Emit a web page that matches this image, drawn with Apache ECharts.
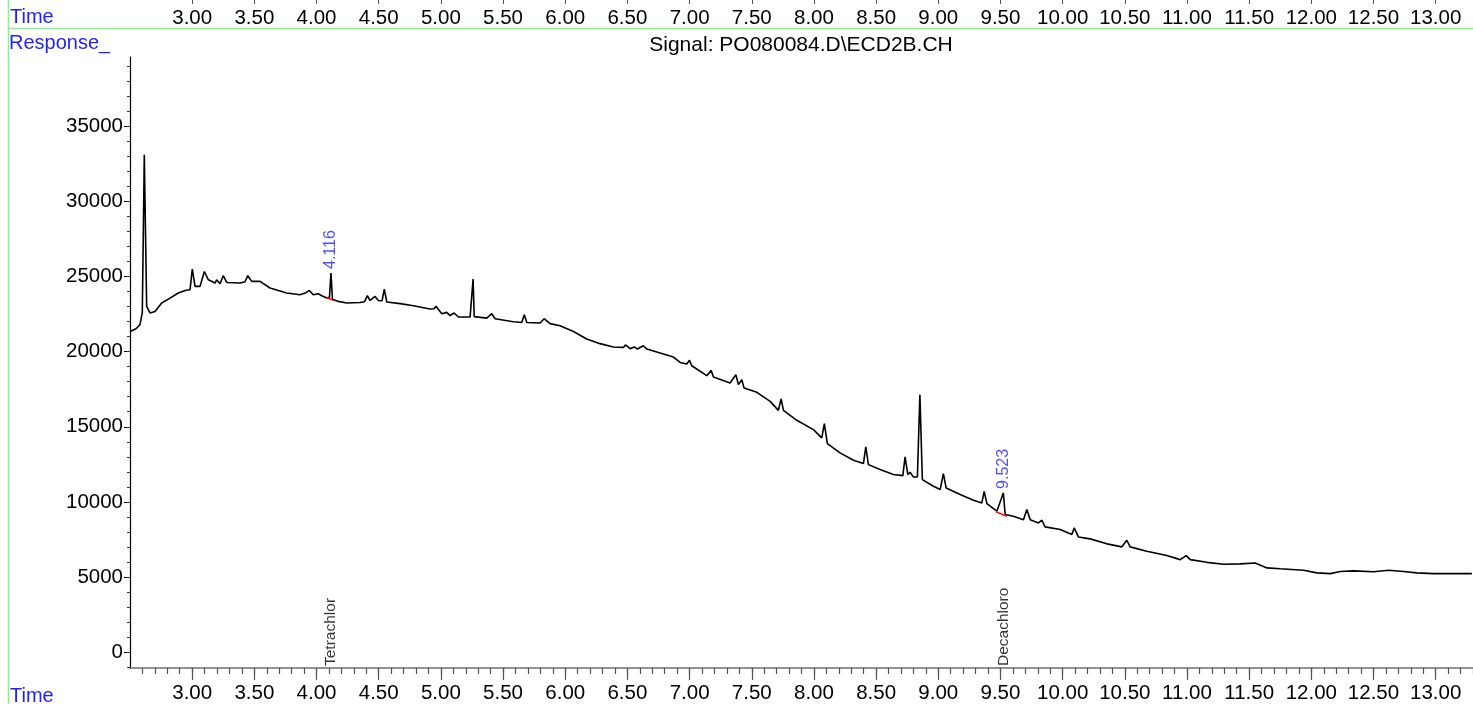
<!DOCTYPE html>
<html><head><meta charset="utf-8">
<script src="https://cdn.jsdelivr.net/npm/echarts@6/dist/echarts.min.js"></script>
<style>html,body{margin:0;padding:0;background:#fff}#c{width:1473px;height:704px}</style>
</head><body><div id="c"></div>
<script>
// Chromatogram trace: [retention time (min), response]
const trace = [
[2.500,21340],[2.548,21520],[2.580,21790],[2.599,22590],[2.615,33090],[2.634,23010],[2.661,22570],[2.701,22670],
[2.755,23230],[2.822,23560],[2.888,23900],[2.950,24080],[2.983,24120],[3.001,25490],[3.023,24340],[3.063,24340],
[3.098,25330],[3.130,24780],[3.184,24560],[3.197,24780],[3.224,24520],[3.250,25050],[3.278,24600],[3.385,24560],
[3.425,24650],[3.447,25050],[3.479,24670],[3.546,24670],[3.626,24230],[3.760,23900],[3.867,23780],[3.916,23920],
[3.942,24070],[3.974,23780],[4.014,23850],[4.042,23720],[4.082,23560],[4.104,23620],[4.116,25230],[4.128,23480],
[4.133,23450],[4.175,23340],[4.243,23230],[4.350,23270],[4.386,23320],[4.409,23720],[4.430,23400],[4.471,23670],
[4.497,23400],[4.527,23380],[4.545,24160],[4.565,23300],[4.672,23190],[4.779,23050],[4.913,22830],[4.945,22850],
[4.961,23010],[5.007,22520],[5.047,22610],[5.074,22390],[5.106,22570],[5.141,22300],[5.235,22300],[5.250,22350],
[5.259,24830],[5.268,22330],[5.283,22340],[5.369,22230],[5.409,22520],[5.436,22190],[5.583,21990],[5.650,21940],
[5.671,22450],[5.691,21940],[5.798,21900],[5.830,22190],[5.878,21860],[5.959,21720],[6.066,21340],[6.173,20840],
[6.280,20530],[6.387,20310],[6.468,20280],[6.484,20440],[6.522,20190],[6.554,20310],[6.580,20170],[6.628,20390],
[6.656,20170],[6.763,19910],[6.870,19640],[6.924,19280],[6.978,19180],[6.999,19420],[7.018,19060],[7.138,18400],
[7.173,18750],[7.192,18310],[7.326,17910],[7.372,18460],[7.393,17800],[7.420,18130],[7.438,17580],[7.541,17290],
[7.648,16690],[7.714,16090],[7.736,16850],[7.755,16090],[7.862,15430],[7.996,14810],[8.063,14260],[8.084,15210],
[8.108,13880],[8.210,13260],[8.318,12770],[8.398,12550],[8.417,13660],[8.438,12480],[8.532,12150],[8.639,11820],
[8.715,11750],[8.733,12990],[8.755,11820],[8.773,11970],[8.800,11660],[8.832,11660],[8.852,17130],[8.872,11480],
[8.961,11040],[9.015,10820],[9.041,11880],[9.063,10930],[9.176,10490],[9.283,10110],[9.350,9930],[9.369,10700],
[9.391,9890],[9.471,9380],[9.523,10600],[9.538,9160],[9.604,9040],[9.685,8820],[9.712,9490],[9.739,8820],
[9.805,8600],[9.833,8780],[9.859,8340],[9.980,8160],[10.074,7830],[10.093,8270],[10.127,7670],[10.221,7540],
[10.356,7210],[10.476,7010],[10.516,7450],[10.543,7010],[10.677,6720],[10.838,6430],[10.945,6160],[10.994,6430],
[11.026,6160],[11.160,5980],[11.293,5850],[11.428,5880],[11.548,5940],[11.643,5610],[11.750,5550],[11.937,5450],
[12.045,5280],[12.152,5230],[12.232,5370],[12.339,5410],[12.500,5350],[12.621,5450],[12.741,5370],[12.849,5280],
[12.983,5230],[13.143,5230],[13.291,5230]
];
const xTicks = [3.00,3.50,4.00,4.50,5.00,5.50,6.00,6.50,7.00,7.50,8.00,8.50,9.00,9.50,10.00,10.50,11.00,11.50,12.00,12.50,13.00];
const yTicks = [0,5000,10000,15000,20000,25000,30000,35000];
const peakTimes = [4.116, 9.523];
const peakResponses = [25230, 10600];
const peakLabels = ['4.116', '9.523'];
const compoundNames = ['Tetrachlor', 'Decachloro'];
const integrationBaselines = [
  [[4.082, 23600], [4.135, 23420]],
  [[9.465, 9335], [9.551, 9043]]
];
const signalTitle = 'Signal: PO080084.D\\ECD2B.CH';

const X_MIN = 2.5, X_MAX = 13.3, Y_MIN = -1050, Y_MAX = 39600;
const xMinor = []; for (let i = 26; i <= 133; i++) xMinor.push(i / 10);
const yMinor = []; for (let v = -1000; v <= 39000; v += 1000) yMinor.push(v);
const FONT = '"Liberation Sans", Arial, sans-serif';
const BLUE = '#1f1fff';
const GREEN = '#93ea93';
const AX_FS = 20.5;

const chart = echarts.init(document.getElementById('c'), null, {renderer: 'canvas'});
const series = [
  {
    type: 'line', data: trace, xAxisIndex: 0, yAxisIndex: 0,
    showSymbol: false, symbol: 'none',
    lineStyle: {color: '#000', width: 1.6}, z: 3
  },
  {
    type: 'scatter', xAxisIndex: 0, yAxisIndex: 0, symbolSize: 0, z: 5,
    data: peakTimes.map((t, i) => [t, peakResponses[i]]),
    label: {
      show: true, position: 'top', distance: 4, rotate: 90, align: 'left', verticalAlign: 'middle',
      formatter: p => peakLabels[p.dataIndex], color: BLUE, fontSize: 16, fontFamily: FONT
    }
  },
  {
    type: 'scatter', xAxisIndex: 0, yAxisIndex: 0, symbolSize: 0, z: 5,
    data: peakTimes.map(t => [t, Y_MIN]),
    label: {
      show: true, position: 'top', distance: 2, rotate: 90, align: 'left', verticalAlign: 'middle',
      formatter: p => compoundNames[p.dataIndex], color: '#000', fontSize: 15.5, fontFamily: FONT
    }
  }
];
integrationBaselines.forEach(seg => series.push({
  type: 'line', data: seg, xAxisIndex: 0, yAxisIndex: 0, showSymbol: false, symbol: 'none',
  lineStyle: {color: '#ff0000', width: 1.5}, z: 4
}));

chart.setOption({
  animation: false,
  backgroundColor: '#fff',
  grid: {left: 130, right: 0, top: 57, bottom: 36, containLabel: false},
  xAxis: [
    {
      type: 'value', min: X_MIN, max: X_MAX, position: 'bottom',
      axisLine: {show: true, onZero: false, lineStyle: {color: '#6e6e6e', width: 1.5}},
      axisTick: {show: true, customValues: xTicks, length: 12, lineStyle: {color: '#555', width: 1.2}},
      axisLabel: {customValues: xTicks, formatter: v => v.toFixed(2), fontSize: AX_FS, color: '#000', margin: 15, fontFamily: FONT},
      splitLine: {show: false}
    },
    {
      type: 'value', min: X_MIN, max: X_MAX, position: 'bottom',
      axisLine: {show: false, onZero: false},
      axisTick: {show: true, customValues: xMinor, length: 6, lineStyle: {color: '#555', width: 1.2}},
      axisLabel: {show: false}, splitLine: {show: false}
    },
    {
      type: 'value', min: X_MIN, max: X_MAX, position: 'top', offset: 57,
      axisLine: {show: false, onZero: false},
      axisTick: {show: true, customValues: xTicks, inside: true, length: 4, lineStyle: {color: '#555'}},
      axisLabel: {customValues: xTicks, inside: true, formatter: v => v.toFixed(2), fontSize: AX_FS, color: '#000', margin: 8, fontFamily: FONT},
      splitLine: {show: false}
    }
  ],
  yAxis: [
    {
      type: 'value', min: Y_MIN, max: Y_MAX, position: 'left',
      axisLine: {show: true, onZero: false, lineStyle: {color: '#000', width: 1.2}},
      axisTick: {show: true, customValues: yTicks, length: 6, lineStyle: {color: '#000'}},
      axisLabel: {customValues: yTicks, formatter: v => String(v), fontSize: AX_FS, color: '#000', margin: 7, fontFamily: FONT},
      splitLine: {show: false}
    },
    {
      type: 'value', min: Y_MIN, max: Y_MAX, position: 'left',
      axisLine: {show: false, onZero: false},
      axisTick: {show: true, customValues: yMinor, length: 3, lineStyle: {color: '#333'}},
      axisLabel: {show: false}, splitLine: {show: false}
    }
  ],
  graphic: [
    {type: 'line', shape: {x1: 8.5, y1: 0, x2: 8.5, y2: 704}, style: {stroke: GREEN, lineWidth: 1.5}, silent: true},
    {type: 'line', shape: {x1: 8, y1: 28.5, x2: 1473, y2: 28.5}, style: {stroke: GREEN, lineWidth: 1.5}, silent: true},
    {type: 'text', left: 10, top: 7, style: {text: 'Time', fill: BLUE, font: '20px ' + FONT}},
    {type: 'text', left: 9, top: 33, style: {text: 'Response_', fill: BLUE, font: '20px ' + FONT}},
    {type: 'text', left: 10, top: 686, style: {text: 'Time', fill: BLUE, font: '20px ' + FONT}},
    {type: 'text', x: 801, y: 45, style: {text: signalTitle, fill: '#000', font: '21px ' + FONT, textAlign: 'center', textVerticalAlign: 'middle'}}
  ],
  series: series
});
</script></body></html>
